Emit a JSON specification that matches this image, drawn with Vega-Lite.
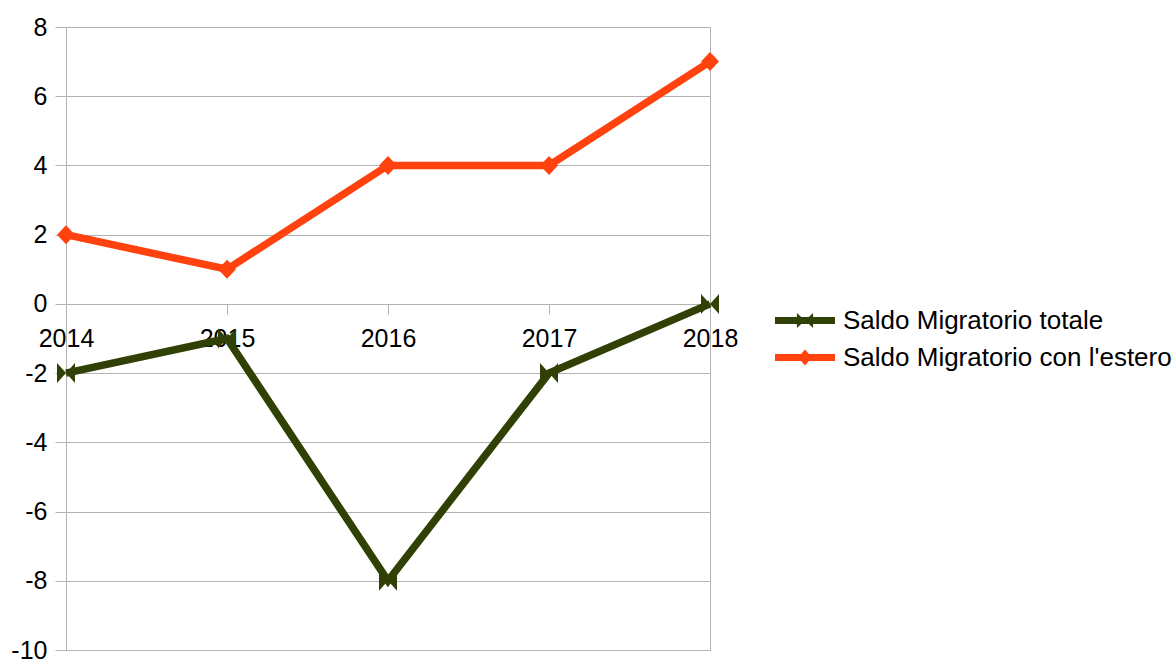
{
  "$schema": "https://vega.github.io/schema/vega-lite/v6.json",
  "width": 644,
  "height": 623,
  "autosize": {"type": "none"},
  "padding": {"left": 66, "top": 27, "right": 466, "bottom": 11},
  "background": "white",
  "config": {
    "font": "Liberation Sans",
    "view": {"stroke": "#b3b3b3", "strokeWidth": 1}
  },
  "data": {
    "values": [
      {"anno": "2014", "serie": "Saldo Migratorio totale", "valore": -2},
      {"anno": "2015", "serie": "Saldo Migratorio totale", "valore": -1},
      {"anno": "2016", "serie": "Saldo Migratorio totale", "valore": -8},
      {"anno": "2017", "serie": "Saldo Migratorio totale", "valore": -2},
      {"anno": "2018", "serie": "Saldo Migratorio totale", "valore": 0},
      {"anno": "2014", "serie": "Saldo Migratorio con l'estero", "valore": 2},
      {"anno": "2015", "serie": "Saldo Migratorio con l'estero", "valore": 1},
      {"anno": "2016", "serie": "Saldo Migratorio con l'estero", "valore": 4},
      {"anno": "2017", "serie": "Saldo Migratorio con l'estero", "valore": 4},
      {"anno": "2018", "serie": "Saldo Migratorio con l'estero", "valore": 7}
    ]
  },
  "encoding": {
    "x": {
      "field": "anno",
      "type": "ordinal",
      "scale": {"type": "point", "padding": 0},
      "axis": {
        "title": null,
        "labelAngle": 0,
        "offset": -346,
        "domainColor": "#b3b3b3",
        "tickColor": "#b3b3b3",
        "tickSize": 10,
        "labelPadding": 12,
        "labelFontSize": 25,
        "labelColor": "#000000",
        "grid": false
      }
    },
    "y": {
      "field": "valore",
      "type": "quantitative",
      "scale": {"domain": [-10, 8], "nice": false, "zero": false},
      "axis": {
        "title": null,
        "values": [-10, -8, -6, -4, -2, 0, 2, 4, 6, 8],
        "labelExpr": "'' + datum.value",
        "domainColor": "#b3b3b3",
        "tickColor": "#b3b3b3",
        "gridColor": "#b3b3b3",
        "tickSize": 11,
        "labelPadding": 8,
        "labelFontSize": 25,
        "labelColor": "#000000"
      }
    },
    "color": {
      "field": "serie",
      "type": "nominal",
      "scale": {
        "domain": ["Saldo Migratorio totale", "Saldo Migratorio con l'estero"],
        "range": ["#314004", "#ff420e"]
      },
      "legend": {
        "title": null,
        "orient": "none",
        "legendX": 709,
        "legendY": 275,
        "labelFontSize": 26,
        "labelColor": "#000000",
        "labelLimit": 500,
        "labelOffset": 8,
        "symbolSize": 400,
        "clipHeight": 37,
        "rowPadding": 0,
        "encode": {
          "symbols": {
            "update": {
              "shape": {"signal": "datum.value === 'Saldo Migratorio totale' ? 'M-1,-0.117H1V0.117H-1Z M-0.27,-0.25L0,0L-0.27,0.25Z M0.27,-0.25L0.27,0.25L0,0Z' : 'M-1,-0.117H1V0.117H-1Z M0,-0.27L0.23,0L0,0.27L-0.23,0Z'"},
              "size": {"value": 3600},
              "fill": {"scale": "color", "field": "value"},
              "fillOpacity": {"value": 1},
              "stroke": {"value": "transparent"},
              "strokeWidth": {"value": 0},
              "opacity": {"value": 1}
            }
          }
        }
      }
    }
  },
  "layer": [
    {
      "mark": {"type": "line", "strokeWidth": 7.5, "strokeJoin": "miter"}
    },
    {
      "transform": [{"filter": "datum.serie === 'Saldo Migratorio totale'"}],
      "mark": {"type": "point", "filled": true, "opacity": 1, "size": 400, "shape": "M-0.9,-1L0,0L-0.9,1Z M0.9,-1L0.9,1L0,0Z"}
    },
    {
      "transform": [{"filter": "datum.serie === \"Saldo Migratorio con l'estero\""}],
      "mark": {"type": "point", "filled": true, "opacity": 1, "size": 400, "shape": "M0,-0.95L0.9,0L0,0.95L-0.9,0Z"}
    }
  ]
}
